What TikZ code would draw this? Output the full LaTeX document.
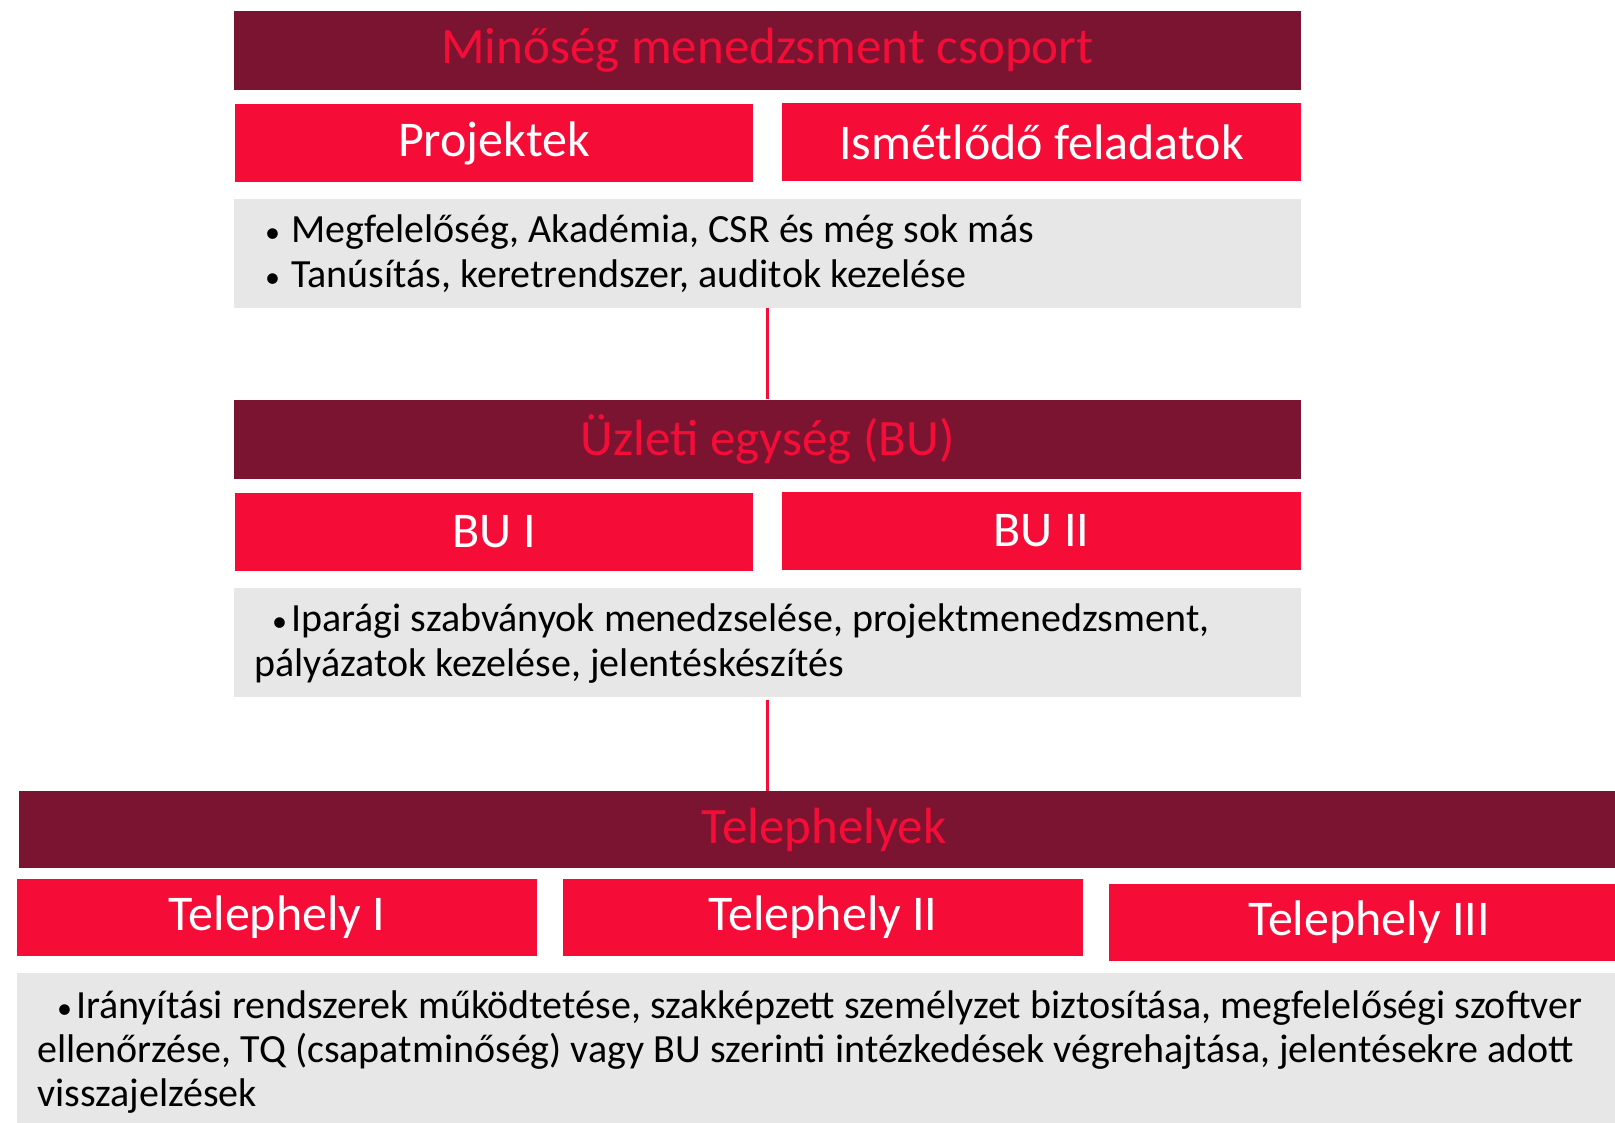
\documentclass[tikz,border=0pt]{standalone}
\usepackage{fontspec}
\setmainfont{Carlito}
\definecolor{darkred}{HTML}{7B1430}
\definecolor{brightred}{HTML}{F50D38}
\definecolor{lightgray}{HTML}{E7E7E7}
\newcommand{\bul}[1]{\makebox[#1][l]{\fontsize{30}{30}\selectfont •}}
\begin{document}
\begin{tikzpicture}[x=1pt,y=-1pt,
  header/.style={fill=darkred,draw=none,inner sep=0pt,minimum width=1067pt,minimum height=79pt,
    text=brightred,font=\fontsize{51}{56}\selectfont},
  subbox/.style={fill=brightred,draw=none,inner sep=0pt,minimum width=519pt,minimum height=78pt,
    text=white,font=\fontsize{50}{56}\selectfont},
  graybox/.style={fill=lightgray,draw=none,inner sep=0pt,minimum width=1067pt,minimum height=109pt},
  bodytext/.style={anchor=base west,inner sep=0pt,font=\fontsize{40}{46}\selectfont,text=black},
  link/.style={draw=brightred,line width=3pt}]
\useasboundingbox (0,0) rectangle (1615,1123);
\begin{scope}
\clip (0,0) rectangle (1615,1123);
% level 1
\node[header] (mq) at (767.5,50.5) {Minőség menedzsment csoport};
\node[subbox,minimum width=518pt] (proj) at (494,143) {Projektek};
\node[subbox] (ism) at (1041.5,142) {Ismétlődő feladatok};
\node[graybox] (g1) at (767.5,253.5) {};
\node[bodytext] (g1a) at (265,243) {\bul{26pt}Megfelelőség, Akadémia, CSR és még sok más};
\node[bodytext] (g1b) at (265,288) {\bul{26pt}Tanúsítás, keretrendszer, auditok kezelése};
% level 2
\node[header] (bu) at (767.5,439) {Üzleti egység (BU)};
\node[subbox,minimum width=518pt] (bu1) at (494,532) {BU I};
\node[subbox] (bu2) at (1041.5,531) {BU II};
\node[graybox] (g2) at (767.5,642.5) {};
\node[bodytext] (g2a) at (272,631) {\bul{19pt}Iparági szabványok menedzselése, projektmenedzsment,};
\node[bodytext] (g2b) at (254,676) {pályázatok kezelése, jelentéskészítés};
% level 3
\node[header,minimum width=1610pt,minimum height=77pt] (tel) at (824,829.5) {Telephelyek};
\node[subbox,minimum width=520pt,minimum height=77pt] (t1) at (277,917.5) {Telephely I};
\node[subbox,minimum width=520pt,minimum height=77pt] (t2) at (823,917.5) {Telephely II};
\node[subbox,minimum width=520pt,minimum height=77pt] (t3) at (1369,922.5) {Telephely III};
\node[graybox,minimum width=1640pt,minimum height=160pt,anchor=north west] (g3) at (17,973) {};
\node[bodytext] (g3a) at (57,1018) {\bul{19pt}Irányítási rendszerek működtetése, szakképzett személyzet biztosítása, megfelelőségi szoftver};
\node[bodytext] (g3b) at (37,1062) {ellenőrzése, TQ (csapatminőség) vagy BU szerinti intézkedések végrehajtása, jelentésekre adott};
\node[bodytext] (g3c) at (37,1106) {visszajelzések};
% connectors
\draw[link] (g1.south -| mq.south) -- (bu.north);
\draw[link] ([yshift=-3pt]g2.south) -- (bu.north |- tel.north);
\end{scope}
\end{tikzpicture}
\end{document}
